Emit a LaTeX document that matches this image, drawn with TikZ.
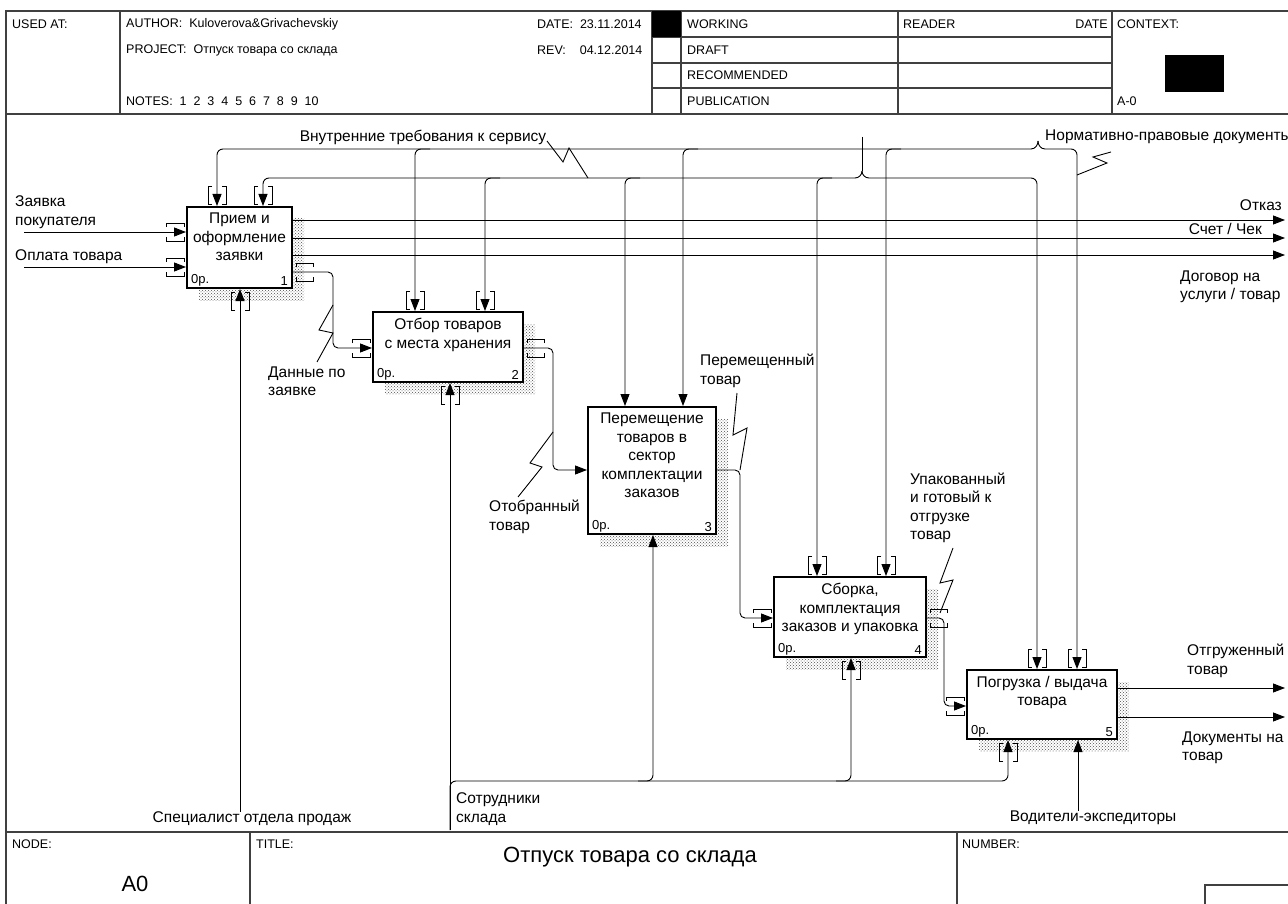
\documentclass[tikz,border=0pt]{standalone}
\usepackage{fontspec}
\setmainfont{Liberation Sans}
\usetikzlibrary{arrows.meta, patterns, positioning}

\tikzset{
  func/.style={draw, line width=2pt, fill=white, inner sep=0pt},
  flow/.style={line width=0.9pt, -{Triangle[length=12pt,width=9pt]}},
  pipe/.style={line width=0.9pt},
  brk/.style={line width=0.9pt},
  frm/.style={line width=1.2pt, black!75},
  lbl/.style={font=\fontsize{15.5}{18.5}\selectfont, align=left, inner sep=0pt},
  boxtxt/.style={font=\fontsize{15.5}{18.5}\selectfont, align=center, inner sep=0pt},
  boxnum/.style={font=\fontsize{13}{15}\selectfont, inner sep=0pt},
  hdr/.style={font=\fontsize{12.5}{15}\selectfont, inner sep=0pt, anchor=west},
}

% activity box: name, x1, y1, x2, y2, text, number
\newcommand\actbox[7]{%
  \fill[pattern=crosshatch dots, pattern color=black!70] (#2+12,#3+12) rectangle (#4+12,#5+12);
  \node[func, minimum width=#4pt-#2pt, minimum height=#5pt-#3pt] (#1) at ({(#2+#4)/2},{(#3+#5)/2}) {};
  \node[boxtxt, anchor=north] (#1t) at ([yshift=-7pt]#1.north) {#6};
  \node[boxnum, anchor=south west] (#1o) at ([shift={(5pt,3pt)}]#1.south west) {0р.};
  \node[boxnum, anchor=south east] (#1n) at ([shift={(-5pt,3pt)}]#1.south east) {#7};
}
% brackets round the arrow ends
\newcommand\brkT[2]{\draw[brk] (#1,#2) ++(-5,-21) -- ++(-4,0) -- ++(0,18) -- ++(4,0) (#1,#2) ++(5,-21) -- ++(4,0) -- ++(0,18) -- ++(-4,0);}
\newcommand\brkB[2]{\draw[brk] (#1,#2) ++(-5,22) -- ++(-4,0) -- ++(0,-18) -- ++(4,0) (#1,#2) ++(5,22) -- ++(4,0) -- ++(0,-18) -- ++(-4,0);}
\newcommand\brkL[2]{\draw[brk] (#1,#2) ++(-21,-5) -- ++(0,-4) -- ++(18,0) -- ++(0,4) (#1,#2) ++(-21,5) -- ++(0,4) -- ++(18,0) -- ++(0,-4);}
\newcommand\brkR[2]{\draw[brk] (#1,#2) ++(21,-5) -- ++(0,-4) -- ++(-17,0) -- ++(0,4) (#1,#2) ++(21,5) -- ++(0,4) -- ++(-17,0) -- ++(0,-4);}

\begin{document}
\begin{tikzpicture}[x=1pt, y=-1pt]
  \useasboundingbox (0,0) rectangle (1288,904);

  % frame
  \draw[frm] (6,906) -- (6,11) -- (1290,11);
  \draw[frm] (6,114) -- (1290,114);
  \draw[frm] (120,11) -- (120,114);
  \foreach \x in {652,681,898,1112}
    \draw[frm] (\x,11) -- (\x,114);
  \foreach \y in {37,63,88}
    \draw[frm] (652,\y) -- (1112,\y);
  \fill (652,11) rectangle (681,37);
  \fill (1165,55) rectangle (1224,92);
  \draw[frm] (6,832) -- (1290,832);
  \draw[frm] (250,832) -- (250,906);
  \draw[frm] (957,832) -- (957,906);
  \draw[frm] (1205,906) -- (1205,885) -- (1290,885);

  % header
  \node[hdr] (hUsed) at (12,24) {USED AT:};
  \node[hdr] (hAuth) at (126,24) {AUTHOR:\ \ Kuloverova\&Grivachevskiy};
  \node[hdr] (hProj) at (126,50) {PROJECT:\ \ Отпуск товара со склада};
  \node[hdr] (hNotes) at (126,101) {NOTES:\ \ 1\ \ 2\ \ 3\ \ 4\ \ 5\ \ 6\ \ 7\ \ 8\ \ 9\ \ 10};
  \node[hdr] (hDate) at (537,24) {DATE:\ \ 23.11.2014};
  \node[hdr] (hRev) at (537,50) {REV:\ \ \ \ 04.12.2014};
  \node[hdr] (sWork) at (687,24) {WORKING};
  \node[hdr] (sDraft) at (687,50) {DRAFT};
  \node[hdr] (sRec) at (687,75) {RECOMMENDED};
  \node[hdr] (sPub) at (687,101) {PUBLICATION};
  \node[hdr] (hReader) at (903,24) {READER};
  \node[hdr, anchor=east] (hRdDate) at (1108,24) {DATE};
  \node[hdr] (hCtx) at (1117,24) {CONTEXT:};
  \node[hdr] (hCtxId) at (1117,101) {A-0};

  % footer
  \node[hdr] (fNode) at (12,844) {NODE:};
  \node[hdr] (fTitle) at (256,844) {TITLE:};
  \node[hdr] (fNum) at (962,844) {NUMBER:};
  \node[font=\fontsize{22}{26}\selectfont, inner sep=0pt] (fTitleText) at (630,857) {Отпуск товара со склада};
  \node[font=\fontsize{22}{26}\selectfont, inner sep=0pt] (fNodeId) at (135,884) {A0};

  % activities
  \actbox{b1}{187}{207}{292}{288}{Прием и\\оформление\\заявки}{1}
  \actbox{b2}{373}{312}{523}{382}{Отбор товаров\\с места хранения}{2}
  \actbox{b3}{588}{407}{716}{534}{Перемещение\\товаров в\\сектор\\комплектации\\заказов}{3}
  \actbox{b4}{774}{577}{926}{657}{Сборка,\\комплектация\\заказов и упаковка}{4}
  \actbox{b5}{967}{670}{1117}{739}{Погрузка / выдача\\товара}{5}

  % inputs
  \node[lbl, anchor=west] (inReq) at (15,212) {Заявка\\покупателя};
  \node[lbl, anchor=west] (inPay) at (15,257) {Оплата товара};
  \coordinate (inReqS) at (24,232);
  \coordinate (inPayS) at (24,267);
  \draw[flow] (inReqS) -- (inReqS -| b1.west);
  \draw[flow] (inPayS) -- (inPayS -| b1.west);

  % outputs of 1
  \coordinate (oRej) at (1285,220);
  \coordinate (oBill) at (1285,238);
  \coordinate (oDeal) at (1285,255);
  \draw[flow] (b1.east |- oRej) -- (oRej);
  \draw[flow] (b1.east |- oBill) -- (oBill);
  \draw[flow] (b1.east |- oDeal) -- (oDeal);
  \node[lbl, anchor=east] (lRej) at (1282,205) {Отказ};
  \node[lbl, anchor=east] (lBill) at (1262,229) {Счет / Чек};
  \node[lbl, anchor=west] (lDeal) at (1180,287) {Договор на\\услуги / товар};

  % 1 -> 2 -> 3 -> 4 -> 5
  \draw[flow, rounded corners=5pt] (b1.east |- 0,272) -- (333,272) -- (333,348) -- (b2.west |- 0,348);
  \node[lbl, anchor=west] (lData) at (268,381) {Данные по\\заявке};
  \draw[pipe] (317,362) -- (333,333) -- (319,330) -- (333,305);

  \draw[flow, rounded corners=5pt] (b2.east |- 0,348) -- (553,348) -- (553,470) -- (b3.west |- 0,470);
  \node[lbl, anchor=west] (lPicked) at (489,517) {Отобранный\\товар};
  \draw[pipe] (518,497) -- (542,467) -- (530,463) -- (553,432);

  \draw[flow, rounded corners=5pt] (b3.east |- 0,470) -- (740,470) -- (740,618) -- (b4.west |- 0,618);
  \node[lbl, anchor=west] (lMoved) at (700,371) {Перемещенный\\товар};
  \draw[pipe] (737,393) -- (733,435) -- (747,428) -- (740,470);

  \draw[flow, rounded corners=5pt] (b4.east |- 0,618) -- (944,618) -- (944,706) -- (b5.west |- 0,706);
  \node[lbl, anchor=west] (lPacked) at (910,508) {Упакованный\\и готовый к\\отгрузке\\товар};
  \draw[pipe] (953,548) -- (940,583) -- (953,580) -- (940,613);

  % outputs of 5
  \coordinate (oShip) at (1285,688);
  \coordinate (oDocs) at (1285,717);
  \draw[flow] (b5.east |- oShip) -- (oShip);
  \draw[flow] (b5.east |- oDocs) -- (oDocs);
  \node[lbl, anchor=west] (lShip) at (1187,661) {Отгруженный\\товар};
  \node[lbl, anchor=west] (lDocs) at (1182,748) {Документы на\\товар};

  % controls: normative documents
  \node[lbl, anchor=west] (cNorm) at (1045,137) {Нормативно-правовые документы};
  \coordinate (nrmJ) at (1038,141);
  \draw[pipe] (nrmJ) to[out=-90,in=0] (1031,149);
  \draw[pipe] (nrmJ) to[out=-90,in=180] (1045,149);
  \draw[flow, rounded corners=6pt] (1031,149) -- (217,149) -- (217,0 |- b1.north);
  \draw[flow, rounded corners=6pt] (1045,149) -- (1077,149) -- (1077,0 |- b5.north);
  \foreach \x/\b in {415/b2, 683/b3, 886/b4}
    \draw[flow, rounded corners=6pt] (\x+15,149) -- (\x,149) -- (\x,0 |- \b.north);
  \draw[pipe] (1111,152) -- (1093,157) -- (1107,163) -- (1077,175);

  % controls: service requirements
  \node[lbl] (cServ) at (423,137) {Внутренние требования к сервису};
  \coordinate (srvJ) at (862,171);
  \draw[pipe] (862,137) -- (srvJ);
  \draw[pipe] (srvJ) to[out=-90,in=0] (855,178);
  \draw[pipe] (srvJ) to[out=-90,in=180] (869,178);
  \draw[flow, rounded corners=6pt] (855,178) -- (263,178) -- (263,0 |- b1.north);
  \draw[flow, rounded corners=6pt] (869,178) -- (1037,178) -- (1037,0 |- b5.north);
  \foreach \x/\b in {485/b2, 625/b3, 817/b4}
    \draw[flow, rounded corners=6pt] (\x+15,178) -- (\x,178) -- (\x,0 |- \b.north);
  \draw[pipe] (547,141) -- (563,162) -- (569,148) -- (588,178);

  % mechanisms
  \node[lbl] (mSpec) at (252,819) {Специалист отдела продаж};
  \draw[flow] (240,0 |- mSpec.north) -- (240,0 |- b1.south);

  \node[lbl, anchor=west] (mStaff) at (456,809) {Сотрудники\\склада};
  \coordinate (stS) at (450,830);
  \draw[flow] (stS) -- (450,0 |- b2.south);
  \draw[flow, rounded corners=6pt] (stS) -- (450,781) -- (1008,781) -- (1008,0 |- b5.south);
  \foreach \x/\b in {653/b3, 851/b4}
    \draw[flow, rounded corners=6pt] (\x-15,781) -- (\x,781) -- (\x,0 |- \b.south);

  \node[lbl] (mDrv) at (1093,818) {Водители-экспедиторы};
  \draw[flow] (1078,0 |- mDrv.north) -- (1078,0 |- b5.south);

  % brackets
  \brkT{217}{207} \brkT{263}{207} \brkT{415}{312} \brkT{485}{312}
  \brkT{817}{577} \brkT{886}{577} \brkT{1037}{670} \brkT{1077}{670}
  \brkB{240}{288} \brkB{450}{382} \brkB{851}{657} \brkB{1008}{739}
  \brkL{187}{232} \brkL{187}{267} \brkL{373}{348} \brkL{774}{618} \brkL{967}{706}
  \brkR{292}{272} \brkR{523}{348} \brkR{926}{618}
\end{tikzpicture}
\end{document}
